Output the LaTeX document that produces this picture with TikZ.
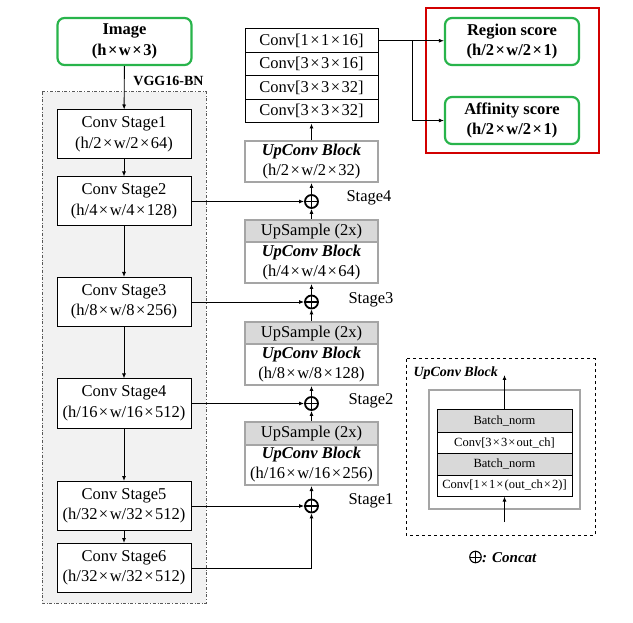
\documentclass[tikz,border=0pt]{standalone}
\usepackage{fontspec}
\setmainfont{Liberation Serif}
\usetikzlibrary{arrows.meta,calc}
\definecolor{grn}{RGB}{40,180,75}
\definecolor{redb}{RGB}{210,0,0}
\definecolor{hdr}{RGB}{217,217,217}
\definecolor{bord}{RGB}{165,165,165}
\definecolor{regfill}{RGB}{242,242,242}
\newcommand\mfont{\fontsize{16.5}{20.5}\selectfont}
\newcommand\sfontx{\fontsize{12.5}{15}\selectfont}
\newcommand\tms{\kern0.09em×\kern0.09em}
\tikzset{
  arr/.style={-{Latex[length=5pt,width=4pt]}, line width=0.9pt},
  convbox/.style={draw, line width=1pt, fill=white, minimum width=134pt, minimum height=49pt, inner sep=0pt, align=center, font=\mfont},
  gbox/.style={draw=grn, line width=2.2pt, rounded corners=7pt, fill=white, minimum width=134pt, minimum height=47pt, inner sep=0pt, align=center, font=\mfont\bfseries},
  crow/.style={draw, line width=1pt, fill=white, minimum width=133pt, minimum height=23.5pt, inner sep=0pt, font=\mfont},
  ubody/.style={draw=bord, line width=2pt, fill=white, minimum width=133pt, inner sep=0pt, align=center, font=\mfont},
  uhead/.style={draw=bord, line width=2pt, fill=hdr, minimum width=133pt, inner sep=0pt, font=\mfont},
  plusnode/.style={circle, draw, line width=1.8pt, minimum size=13pt, inner sep=0pt,
     path picture={\draw[line width=1.6pt] (path picture bounding box.north) -- (path picture bounding box.south) (path picture bounding box.west) -- (path picture bounding box.east);}},
  stlabel/.style={anchor=west, font=\mfont},
  irow/.style={draw, line width=1pt, fill=white, minimum width=135pt, inner sep=0pt, font=\sfontx},
}
\begin{document}
\begin{tikzpicture}[x=1pt,y=-1pt]
\useasboundingbox (0,0) rectangle (633,623);
\fill[white] (0,0) rectangle (633,623);

% VGG region
\draw[dash dot, line width=1pt, draw=black!65, fill=regfill] (42,92) rectangle (206,603);
\node[font=\fontsize{14}{16}\selectfont\bfseries, anchor=east] (vgglbl) at (207,81) {VGG16-BN};

% left column
\node[gbox] (img) at (124.5,41.5) {Image\\(h\tms w\tms 3)};
\node[convbox] (s1) at (124,134.5) {Conv Stage1\\(h/2\tms w/2\tms 64)};
\node[convbox] (s2) at (124,201.5) {Conv Stage2\\(h/4\tms w/4\tms 128)};
\node[convbox] (s3) at (124,302) {Conv Stage3\\(h/8\tms w/8\tms 256)};
\node[convbox] (s4) at (124,403.5) {Conv Stage4\\(h/16\tms w/16\tms 512)};
\node[convbox] (s5) at (124,506) {Conv Stage5\\(h/32\tms w/32\tms 512)};
\node[convbox] (s6) at (124,568) {Conv Stage6\\(h/32\tms w/32\tms 512)};
\draw[arr] (img) -- (s1);
\draw[arr] (s1) -- (s2);
\draw[arr] (s2) -- (s3);
\draw[arr] (s3) -- (s4);
\draw[arr] (s4) -- (s5);
\draw[arr] (s5) -- (s6);

% middle column: conv stack
\node[crow] (c1) at (311.5,40.75) {Conv[1\tms 1\tms 16]};
\node[crow] (c2) at (311.5,64.25) {Conv[3\tms 3\tms 16]};
\node[crow] (c3) at (311.5,87.75) {Conv[3\tms 3\tms 32]};
\node[crow] (c4) at (311.5,111.25) {Conv[3\tms 3\tms 32]};

% top upconv block
\node[ubody, minimum height=41pt] (u4) at (311.5,161.5) {\textbf{\textit{UpConv Block}}\\(h/2\tms w/2\tms 32)};

% blocks with upsample header
\node[uhead, minimum height=22.5pt] (h3) at (311.5,231.25) {UpSample (2x)};
\node[ubody, minimum height=40.5pt] (u3) at (311.5,262.75) {\textbf{\textit{UpConv Block}}\\(h/4\tms w/4\tms 64)};
\node[uhead, minimum height=22.5pt] (h2) at (311.5,333.25) {UpSample (2x)};
\node[ubody, minimum height=40.5pt] (u2) at (311.5,364.75) {\textbf{\textit{UpConv Block}}\\(h/8\tms w/8\tms 128)};
\node[uhead, minimum height=22.5pt] (h1) at (311.5,433.25) {UpSample (2x)};
\node[ubody, minimum height=40.5pt] (u1) at (311.5,464.75) {\textbf{\textit{UpConv Block}}\\(h/16\tms w/16\tms 256)};

% plus nodes
\node[plusnode] (p4) at (311.5,201.5) {};
\node[plusnode] (p3) at (311.5,302) {};
\node[plusnode] (p2) at (311.5,403.5) {};
\node[plusnode] (p1) at (311.5,506) {};
\node[stlabel] (l4) at (343,198) {Stage4};
\node[stlabel] (l3) at (345,300) {Stage3};
\node[stlabel] (l2) at (345,401) {Stage2};
\node[stlabel] (l1) at (345,501) {Stage1};

% connections
\draw[arr] (s2.east) -- (p4.west);
\draw[arr] (s3.east) -- (p3.west);
\draw[arr] (s4.east) -- (p2.west);
\draw[arr] (s5.east) -- (p1.west);
\draw[arr] (s6.east) -| (p1.south);
\draw[arr] (h3.north) -- (p4.south);
\draw[arr] (p4.north) -- (u4.south);
\draw[arr] (u4.north) -- (c4.south);
\draw[arr] (h2.north) -- (p3.south);
\draw[arr] (p3.north) -- (u3.south);
\draw[arr] (h1.north) -- (p2.south);
\draw[arr] (p2.north) -- (u2.south);
\draw[arr] (p1.north) -- (u1.south);

% outputs
\draw[redb, line width=2.5pt] (426,8) rectangle (599,153);
\node[gbox] (reg) at (512,41.5) {Region score\\(h/2\tms w/2\tms 1)};
\node[gbox] (aff) at (512,120.5) {Affinity score\\(h/2\tms w/2\tms 1)};
\coordinate (br) at (412,40.75);
\draw[arr] (c1.east) -- (c1.east -| reg.west);
\draw[arr] (br) |- (aff.west);

% inset legend
\draw[dashed, line width=1pt] (406,359) rectangle (595,535);
\node[anchor=west, font=\fontsize{14}{16}\selectfont\bfseries\itshape] (ilbl) at (410,373) {UpConv Block};
\draw[bord, line width=2.5pt, fill=white] (429,390) rectangle (580,509);
\node[irow, fill=hdr, minimum height=23pt] (n1) at (504.5,420.5) {Batch\_norm};
\node[irow, minimum height=21pt] (n2) at (504.5,442.5) {Conv[3\tms 3\tms out\_ch]};
\node[irow, fill=hdr, minimum height=22pt] (n3) at (504.5,464) {Batch\_norm};
\node[irow, minimum height=21pt] (n4) at (504.5,485.5) {Conv[1\tms 1\tms (out\_ch\tms 2)]};
\coordinate (iin) at (504.5,522);
\coordinate (iout) at (504.5,375);
\draw[arr] (iin) -- (n4.south);
\draw[arr] (n1.north) -- (iout);

\node[circle, draw, line width=1.1pt, minimum size=11.5pt, inner sep=0pt,
  path picture={\draw[line width=1pt] (path picture bounding box.north) -- (path picture bounding box.south) (path picture bounding box.west) -- (path picture bounding box.east);}] (cplus) at (475.5,557) {};
\node[anchor=west, inner sep=0pt, font=\fontsize{15}{17}\selectfont\bfseries\itshape] (concat) at (482,557.5) {: Concat};
\end{tikzpicture}
\end{document}
